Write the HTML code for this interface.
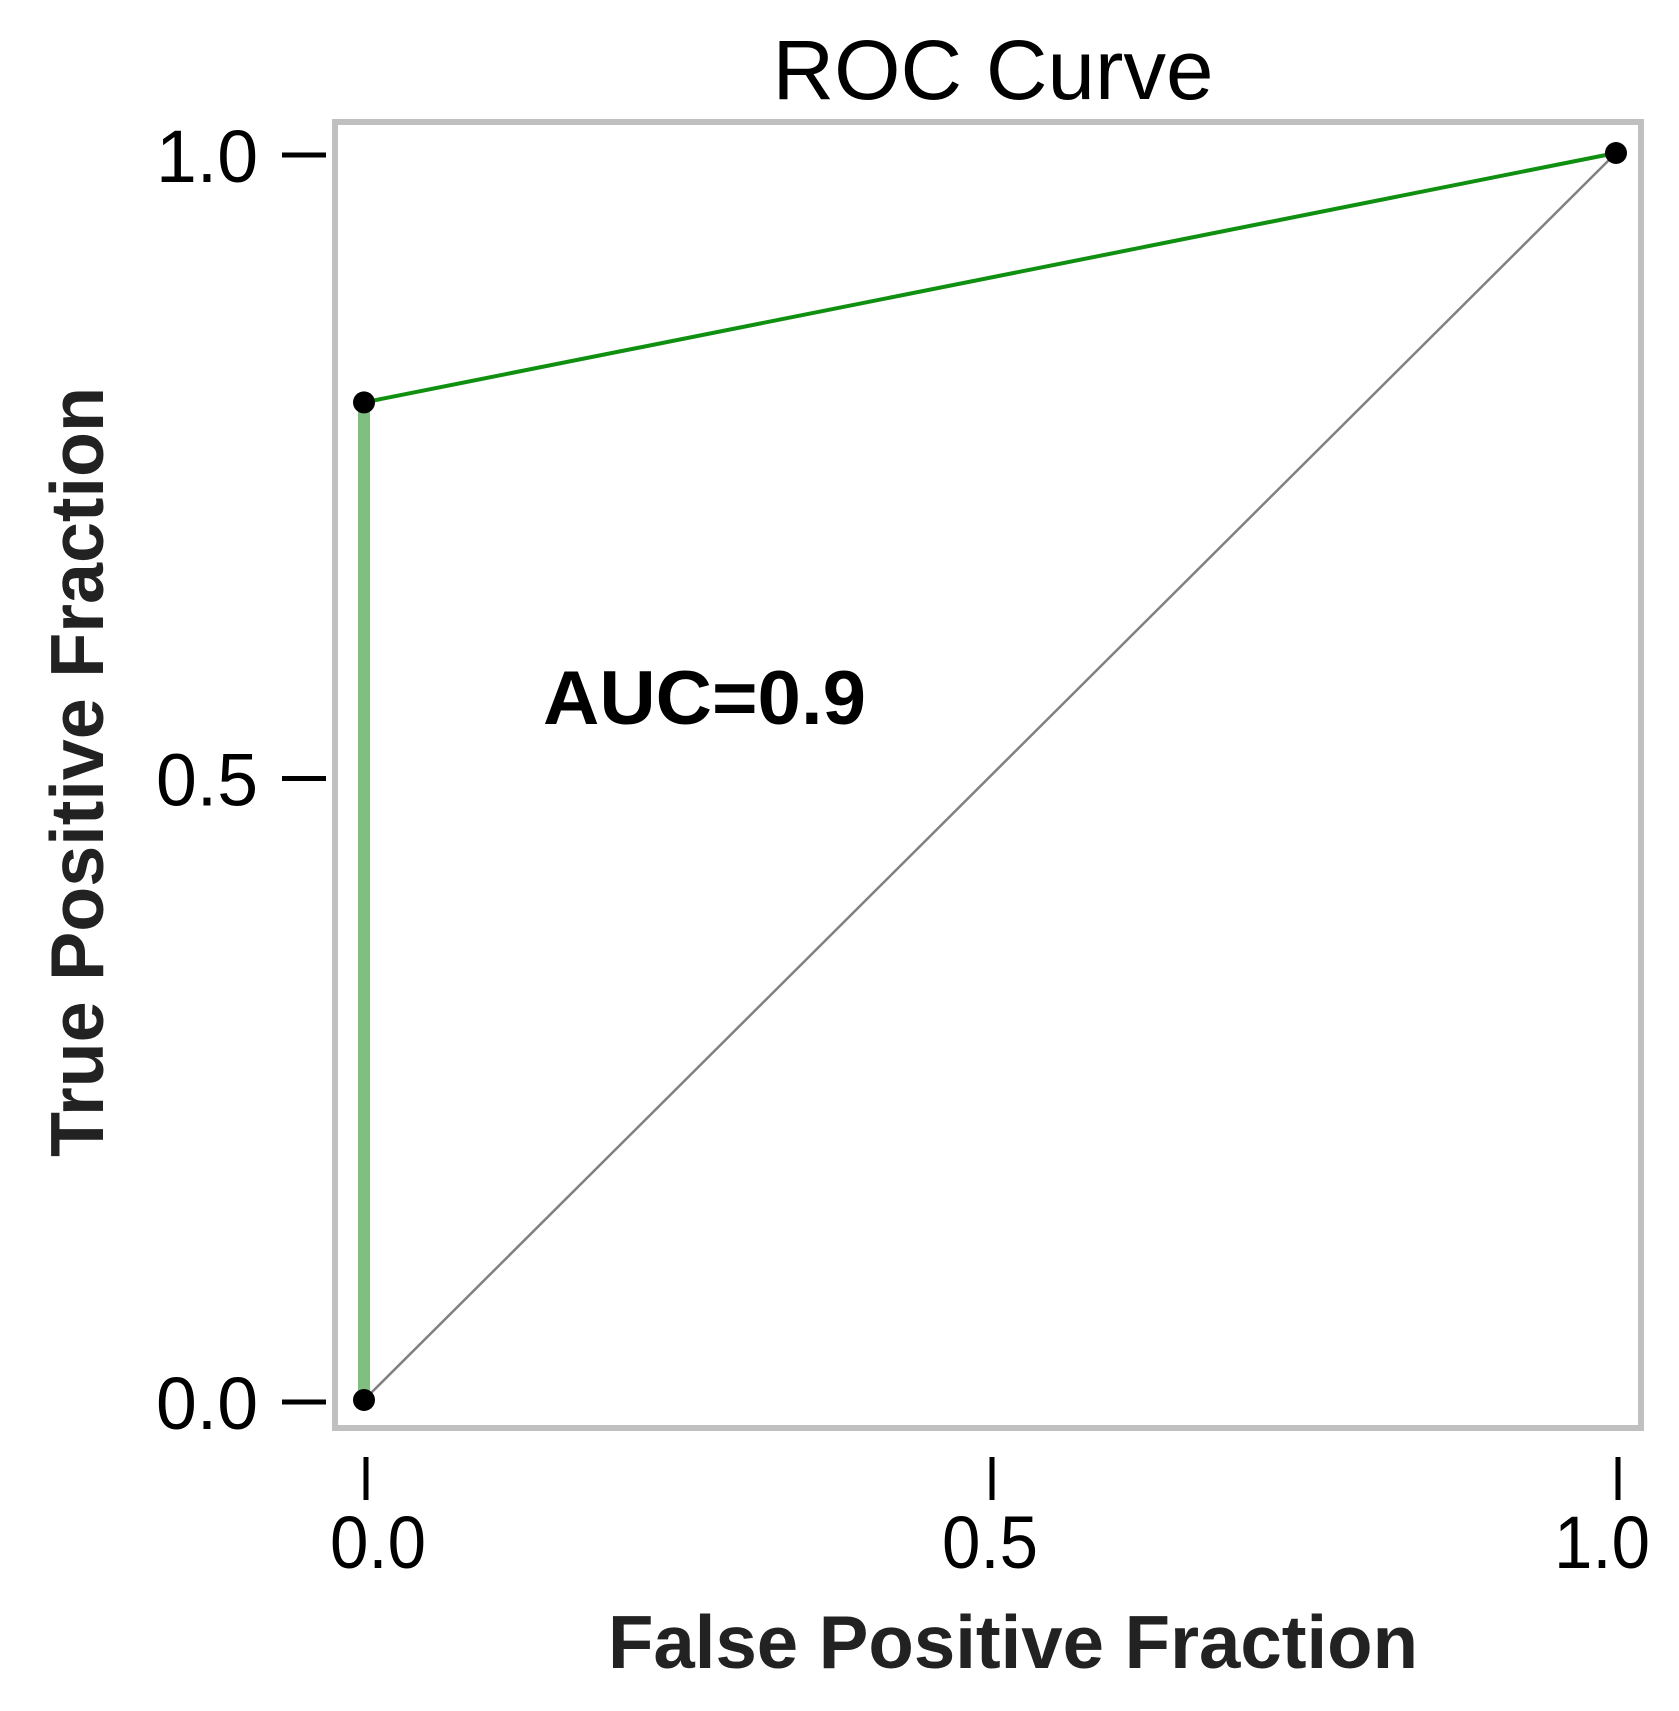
<!DOCTYPE html>
<html><head><meta charset="utf-8"><style>
html,body{margin:0;padding:0;background:#fff;}
svg{display:block;}
text{font-family:"Liberation Sans",sans-serif;}
</style></head><body>
<svg id="chart" width="1679" height="1711" viewBox="0 0 1679 1711">
<text x="993" y="99" font-size="84" text-anchor="middle" fill="#000" textLength="441" lengthAdjust="spacingAndGlyphs">ROC Curve</text>
<rect x="335" y="122" width="1306" height="1306" fill="none" stroke="#c0c0c0" stroke-width="6"/>
<g id="axes"></g>
<g id="series"></g>
<text x="543" y="724" font-size="76" font-weight="bold" fill="#000" textLength="323" lengthAdjust="spacingAndGlyphs">AUC=0.9</text>
<text x="1013" y="1668" font-size="75" font-weight="bold" fill="#222" text-anchor="middle" textLength="810" lengthAdjust="spacingAndGlyphs">False Positive Fraction</text>
<text transform="translate(103,772) rotate(-90)" font-size="75" font-weight="bold" fill="#222" text-anchor="middle" textLength="770" lengthAdjust="spacingAndGlyphs">True Positive Fraction</text>
</svg>
<script>
const fpr = [0, 0, 1];
const tpr = [0, 0.8, 1];
const xTicks = [0, 0.5, 1];
const yTicks = [0, 0.5, 1];
const xTickLabels = ["0.0", "0.5", "1.0"];
const yTickLabels = ["0.0", "0.5", "1.0"];

const NS = "http://www.w3.org/2000/svg";
const sx = v => 364 + v * (1616 - 364);
const sy = v => 1400 - v * (1400 - 153);
function mk(tag, attrs, parent) {
  const e = document.createElementNS(NS, tag);
  for (const k in attrs) e.setAttribute(k, attrs[k]);
  parent.appendChild(e);
  return e;
}
const axes = document.getElementById('axes');
const series = document.getElementById('series');

yTicks.forEach((v, i) => {
  const t = mk('line', {x1: 282, x2: 326, y1: sy(v) + 2, y2: sy(v) + 2, stroke: '#000', 'stroke-width': 5}, axes);
  
  
  const l = mk('text', {x: 258, y: sy(v) + 29, 'font-size': 74, 'text-anchor': 'end', fill: '#000', textLength: 102, lengthAdjust: 'spacingAndGlyphs'}, axes);
  l.textContent = yTickLabels[i];
  
  
});
xTicks.forEach((v, i) => {
  const t = mk('line', {x1: sx(v) + 2, x2: sx(v) + 2, y1: 1457, y2: 1500, stroke: '#000', 'stroke-width': 5}, axes);
  
  
  const l = mk('text', {x: sx(v) + 14 * (1 - 2 * v), y: 1568, 'font-size': 74, 'text-anchor': 'middle', fill: '#000', textLength: 96, lengthAdjust: 'spacingAndGlyphs'}, axes);
  l.textContent = xTickLabels[i];
  
  
});

const diag = mk('line', {x1: sx(0), y1: sy(0), x2: sx(1), y2: sy(1), stroke: '#808080', 'stroke-width': 2.5}, series);



for (let i = 0; i < fpr.length - 1; i++) {
  const vertical = fpr[i] === fpr[i + 1];
  const seg = mk('line', {x1: sx(fpr[i]), y1: sy(tpr[i]), x2: sx(fpr[i + 1]), y2: sy(tpr[i + 1]),
    stroke: vertical ? '#7fbf7f' : '#109010', 'stroke-width': vertical ? 12 : 4}, series);
  
  
}
fpr.forEach((v, i) => {
  const p = mk('circle', {cx: sx(v), cy: sy(tpr[i]), r: 11, fill: '#000'}, series);
  
  
});
</script>
</body></html>
